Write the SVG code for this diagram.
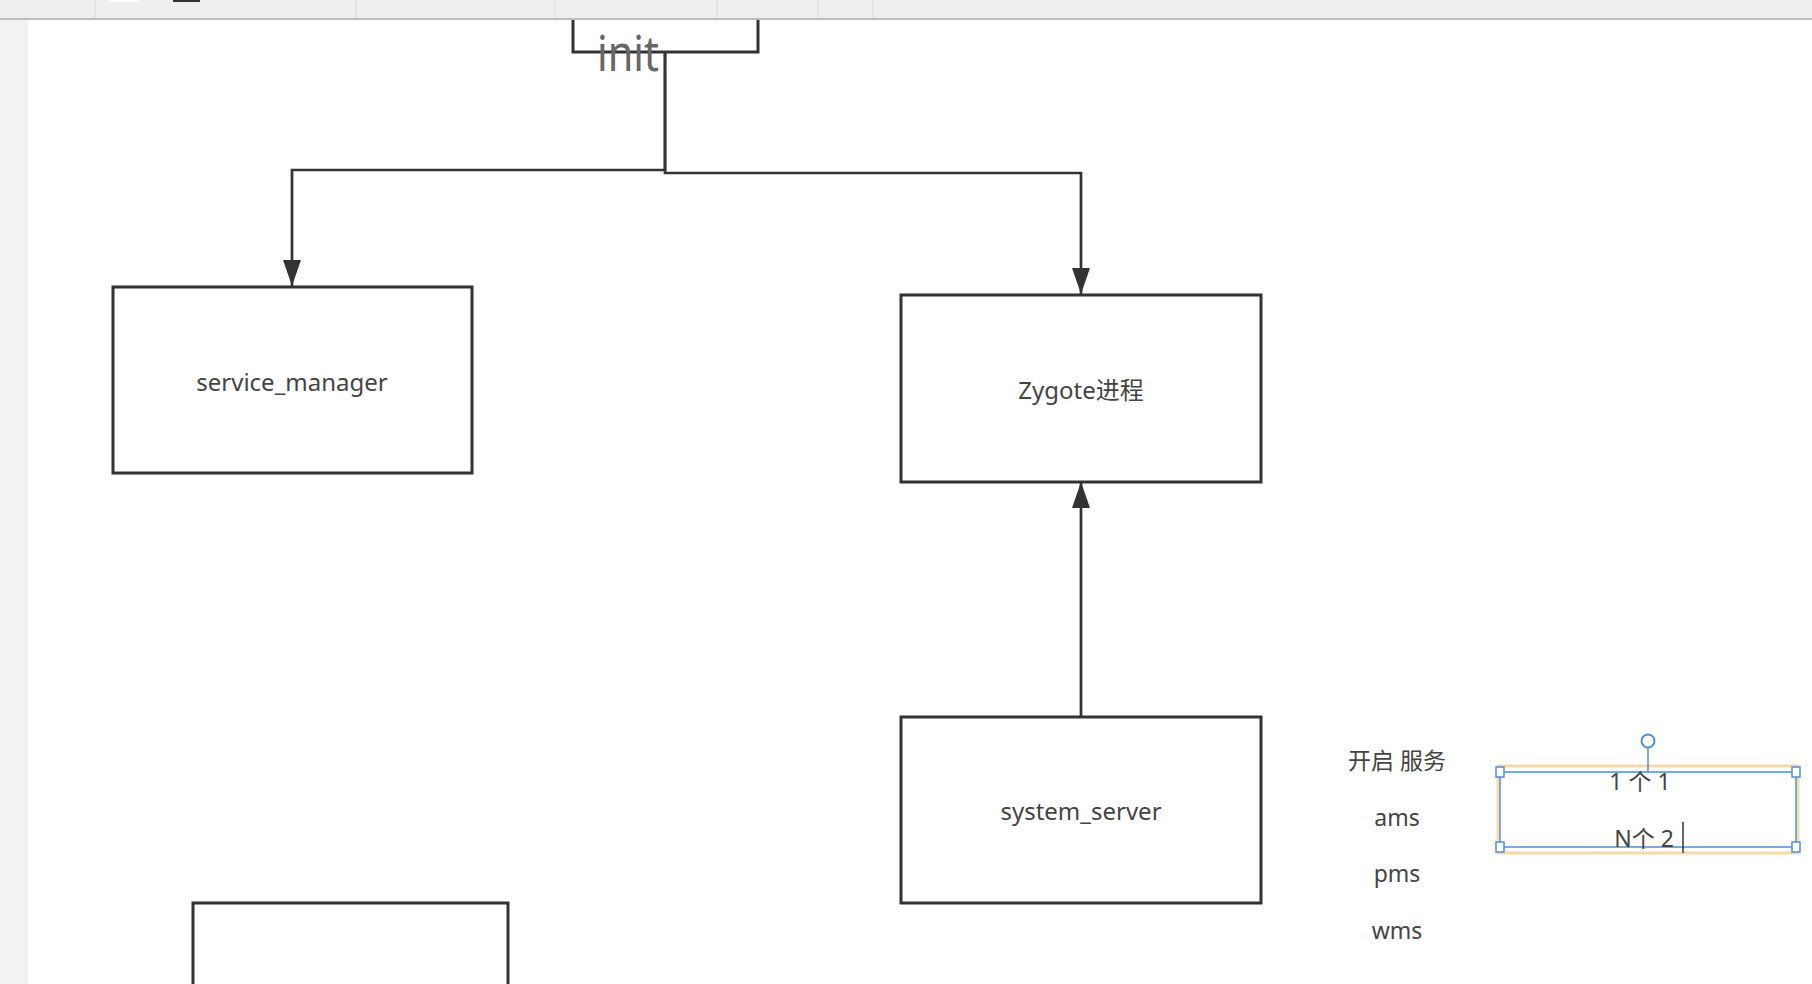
<svg xmlns="http://www.w3.org/2000/svg" width="1812" height="984" viewBox="0 0 1812 984">
  <style>
    .box { fill: #ffffff; stroke: #333333; stroke-width: 3; }
    .edge { fill: none; stroke: #333333; stroke-width: 2.7; }
    .label { font-family: "Noto Sans", "Noto Sans CJK SC", sans-serif; font-size: 24px; fill: #444444; text-anchor: middle; }
    .note { font-family: "Noto Sans", "Noto Sans CJK SC", sans-serif; font-size: 23px; fill: #444444; text-anchor: middle; }
    .handle { fill: #ffffff; stroke: #4a8fd8; stroke-width: 1.5; }
  </style>
  <defs>
    <marker id="arrow" markerUnits="userSpaceOnUse" markerWidth="26" markerHeight="18" refX="26" refY="9" orient="auto">
      <path d="M0,0 L26,9 L0,18 z" fill="#333333"/>
    </marker>
  </defs>

  <!-- canvas background, side strip and toolbar -->
  <rect x="0" y="0" width="1812" height="984" fill="#ffffff"/>
  <rect x="0" y="0" width="28" height="984" fill="#f2f2f2"/>

  <!-- nodes -->
  <g id="node-init">
    <rect class="box" x="573" y="-10" width="185" height="62"/>
    <text x="628" y="71" font-family="Noto Sans, sans-serif" font-size="50" fill="#666666" text-anchor="middle" textLength="62" lengthAdjust="spacingAndGlyphs">init</text>
  </g>
  <g id="node-service-manager">
    <rect class="box" x="113" y="287" width="359" height="186"/>
    <text class="label" x="292" y="391">service_manager</text>
  </g>
  <g id="node-zygote">
    <rect class="box" x="901" y="295" width="360" height="187"/>
    <text class="label" x="1081" y="399">Zygote进程</text>
  </g>
  <g id="node-system-server">
    <rect class="box" x="901" y="717" width="360" height="186"/>
    <text class="label" x="1081" y="820">system_server</text>
  </g>
  <g id="node-bottom">
    <rect class="box" x="193" y="903" width="315" height="120"/>
  </g>

  <!-- connectors -->
  <g id="connectors">
    <path class="edge" d="M665,52 V170 H292 V286" marker-end="url(#arrow)"/>
    <path class="edge" d="M665,52 V173 H1081 V294" marker-end="url(#arrow)"/>
    <path class="edge" d="M1081,717 V482" marker-end="url(#arrow)"/>
  </g>

  <!-- service notes -->
  <g id="notes">
    <text class="note" x="1397" y="769">开启 服务</text>
    <text class="note" x="1397" y="826">ams</text>
    <text class="note" x="1397" y="882">pms</text>
    <text class="note" x="1397" y="939">wms</text>
  </g>

  <!-- text box being edited -->
  <g id="node-textbox">
    <rect x="1498" y="766" width="300" height="87" fill="none" stroke="#f7d9a8" stroke-width="3"/>
    <rect x="1500" y="772" width="296" height="75" fill="none" stroke="#4a8fd8" stroke-width="1.5"/>
    <line x1="1648" y1="748" x2="1648" y2="772" stroke="#4a8fd8" stroke-width="1.5"/>
    <circle cx="1648" cy="741" r="6.5" fill="#ffffff" stroke="#4a8fd8" stroke-width="2"/>
    <rect class="handle" x="1496" y="767" width="8" height="10"/>
    <rect class="handle" x="1792" y="767" width="8" height="10"/>
    <rect class="handle" x="1496" y="842" width="8" height="10"/>
    <rect class="handle" x="1792" y="842" width="8" height="10"/>
    <text class="note" x="1640" y="790">1 个 1</text>
    <text class="note" x="1644" y="847">N个 2</text>
    <line x1="1683" y1="822" x2="1683" y2="853" stroke="#333333" stroke-width="1.5"/>
  </g>

  <!-- toolbar on top -->
  <rect x="0" y="0" width="1812" height="18" fill="#efefef"/>
  <rect x="0" y="18" width="1812" height="2" fill="#bdbdbd"/>
  <g stroke="#d8d8d8" stroke-width="1">
    <line x1="95" y1="0" x2="95" y2="18"/>
    <line x1="356" y1="0" x2="356" y2="18"/>
    <line x1="555" y1="0" x2="555" y2="18"/>
    <line x1="717" y1="0" x2="717" y2="18"/>
    <line x1="818" y1="0" x2="818" y2="18"/>
    <line x1="873" y1="0" x2="873" y2="18"/>
  </g>
  <rect x="110" y="0" width="28" height="2" fill="#ffffff"/>
  <rect x="173" y="0" width="27" height="2" fill="#333333"/>
</svg>
